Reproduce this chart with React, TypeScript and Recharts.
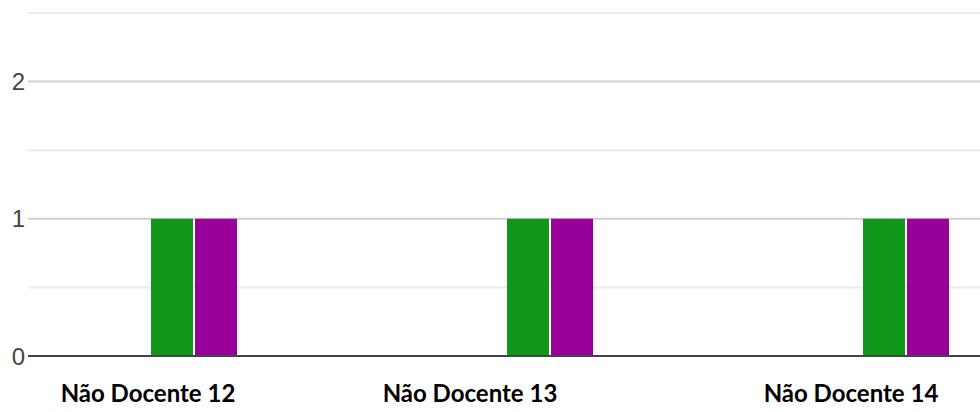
import React from 'react';
import { BarChart, Bar, XAxis, YAxis, CartesianGrid } from 'recharts';

// ---- data ----
const categories = ['Não Docente 12', 'Não Docente 13', 'Não Docente 14'];
const serie1 = [0, 0, 0];
const serie2 = [0, 0, 0];
const serie3 = [1, 1, 1];
const serie4 = [1, 1, 1];
const yTicks = [0, 1, 2];
const minorTicks = [0.5, 1.5, 2.5];
const yDomain: [number, number] = [0, 2.5];

// ---- layout (label nudges, px) ----
const labelShift = [-2, -36, -11];

const data = categories.map((name, i) => ({
  name,
  s1: serie1[i],
  s2: serie2[i],
  s3: serie3[i],
  s4: serie4[i],
}));

const CategoryTick = (props: any) => {
  const { x, y, payload, index } = props;
  return (
    <text
      x={x + (labelShift[index] ?? 0)}
      y={y}
      dy={46}
      textAnchor="middle"
      fontFamily="Lato, 'Open Sans', sans-serif"
      fontWeight={700}
      fontSize={24}
      fill="#000"
    >
      {payload.value}
    </text>
  );
};

export default function App() {
  return (
    <div style={{ position: 'absolute', left: 0, top: 0, width: 980, height: 412, overflow: 'hidden', background: '#fff' }}>
      <BarChart
        width={980}
        height={412}
        data={data}
        margin={{ top: 13, right: 0, bottom: 0, left: 0 }}
        barSize={42}
        barGap={2}
      >
        <CartesianGrid vertical={false} horizontalValues={minorTicks} stroke="#ececec" strokeWidth={2} />
        <CartesianGrid vertical={false} horizontalValues={yTicks} stroke="#cfcfcf" strokeWidth={2} />
        <XAxis
          dataKey="name"
          height={56}
          tickLine={false}
          tickSize={0}
          tickMargin={0}
          interval={0}
          axisLine={{ stroke: '#444', strokeWidth: 2 }}
          padding={{ left: -56, right: -60 }}
          tick={<CategoryTick />}
        />
        <YAxis
          width={28}
          domain={yDomain}
          ticks={yTicks}
          tickLine={false}
          tickSize={0}
          tickMargin={3}
          axisLine={false}
          tick={{ fill: '#444', fontSize: 24, fontFamily: 'Arial, "Liberation Sans", sans-serif' }}
        />
        <Bar dataKey="s1" fill="#3366cc" isAnimationActive={false} />
        <Bar dataKey="s2" fill="#dc3912" isAnimationActive={false} />
        <Bar dataKey="s3" fill="#109618" isAnimationActive={false} />
        <Bar dataKey="s4" fill="#990099" isAnimationActive={false} />
      </BarChart>
    </div>
  );
}
